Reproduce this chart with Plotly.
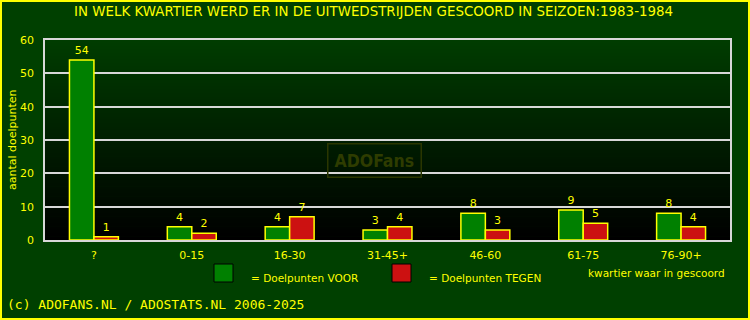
import plotly.graph_objects as go

categories = ["?", "0-15", "16-30", "31-45+", "46-60", "61-75", "76-90+"]
voor = [54, 4, 4, 3, 8, 9, 8]
tegen = [1, 2, 7, 4, 3, 5, 4]
series_names = ["= Doelpunten VOOR", "= Doelpunten TEGEN"]
title = "IN WELK KWARTIER WERD ER IN DE UITWEDSTRIJDEN GESCOORD IN SEIZOEN:1983-1984"
y_title = "aantal doelpunten"
x_title = "kwartier waar in gescoord"
footer = "(c) ADOFANS.NL / ADOSTATS.NL 2006-2025"
y_ticks = [0, 10, 20, 30, 40, 50, 60]

W, H = 750, 320
L, R, T, B = 45, 20, 40, 80
PW, PH = W - L - R, H - T - B
YEL = "#ffff00"
BG = "#004000"
GREEN = "#008000"
RED = "#cc1111"
FONT = "DejaVu Sans"


def px(x):
    return (x - L) / PW


def py(y):
    return (H - B - y) / PH


fig = go.Figure()
fig.add_trace(go.Bar(x=categories, y=voor, name=series_names[0],
                     marker=dict(color=GREEN, line=dict(color=YEL, width=1.5)),
                     text=voor, textposition="outside",
                     textfont=dict(color=YEL, size=11, family=FONT),
                     cliponaxis=False))
fig.add_trace(go.Bar(x=categories, y=tegen, name=series_names[1],
                     marker=dict(color=RED, line=dict(color=YEL, width=1.5)),
                     text=tegen, textposition="outside",
                     textfont=dict(color=YEL, size=11, family=FONT),
                     cliponaxis=False))

shapes = []
# gradient background of plot area
n = 60
for i in range(n):
    f = i / (n - 1)
    g = int(round(0x3c * (1 - f)))
    shapes.append(dict(type="rect", xref="paper", yref="paper",
                       x0=0, x1=1, y0=1 - (i + 1) / n, y1=1 - i / n + 0.002,
                       fillcolor=f"rgb(0,{g},0)", line=dict(width=0), layer="below"))
# outer yellow border
shapes.append(dict(type="rect", xref="paper", yref="paper",
                   x0=px(1), x1=px(749), y0=py(319), y1=py(1),
                   line=dict(color=YEL, width=2), fillcolor="rgba(0,0,0,0)"))
# legend swatches
shapes.append(dict(type="rect", xref="paper", yref="paper",
                   x0=px(214), x1=px(233), y0=py(282), y1=py(264),
                   fillcolor=GREEN, line=dict(color="black", width=1)))
shapes.append(dict(type="rect", xref="paper", yref="paper",
                   x0=px(392), x1=px(411), y0=py(282), y1=py(264),
                   fillcolor=RED, line=dict(color="black", width=1)))

annotations = [
    dict(text=title, x=px(373), y=py(11.5), xref="paper", yref="paper",
         showarrow=False, font=dict(color=YEL, size=13.4, family=FONT),
         xanchor="center", yanchor="middle"),
    dict(text=y_title, x=px(12), y=py(140), xref="paper", yref="paper",
         showarrow=False, textangle=-90, font=dict(color=YEL, size=11, family=FONT),
         xanchor="center", yanchor="middle"),
    dict(text=x_title, x=px(727), y=py(273), xref="paper", yref="paper",
         showarrow=False, font=dict(color=YEL, size=10.5, family=FONT),
         xanchor="right", yanchor="middle"),
    dict(text=series_names[0], x=px(249), y=py(278), xref="paper", yref="paper",
         showarrow=False, font=dict(color=YEL, size=10.5, family=FONT),
         xanchor="left", yanchor="middle"),
    dict(text=series_names[1], x=px(427), y=py(278), xref="paper", yref="paper",
         showarrow=False, font=dict(color=YEL, size=10.5, family=FONT),
         xanchor="left", yanchor="middle"),
    dict(text=footer, x=px(5), y=py(304), xref="paper", yref="paper",
         showarrow=False, font=dict(color=YEL, size=13, family="DejaVu Sans Mono"),
         xanchor="left", yanchor="middle"),
    dict(text="<b>ADOFans</b>", x=px(374), y=py(160), xref="paper", yref="paper",
         showarrow=False,
         font=dict(color="#2e3c00", size=17.5, family="DejaVu Sans Condensed"),
         bordercolor="#2a3600", borderwidth=1.5, borderpad=6,
         xanchor="center", yanchor="middle"),
]

fig.update_layout(
    width=W, height=H,
    margin=dict(l=L, r=R, t=T, b=B),
    paper_bgcolor=BG, plot_bgcolor="rgba(0,0,0,0)",
    barmode="group", bargap=0.5, bargroupgap=0,
    showlegend=False,
    shapes=shapes, annotations=annotations,
    font=dict(family=FONT, color=YEL, size=11),
)
fig.update_xaxes(showgrid=False, showline=True, linecolor="#d8d8d8", linewidth=1.5,
                 mirror=True, ticks="", tickfont=dict(color=YEL, size=11, family=FONT),
                 ticklabelstandoff=4)
fig.update_yaxes(range=[0, 60], tickvals=y_ticks, showgrid=True, gridcolor="#d8d8d8",
                 gridwidth=1.5, showline=True, linecolor="#d8d8d8", linewidth=1.5,
                 mirror=True, ticks="", zeroline=False,
                 tickfont=dict(color=YEL, size=11, family=FONT), ticklabelstandoff=7)

fig.write_html("out.html")
